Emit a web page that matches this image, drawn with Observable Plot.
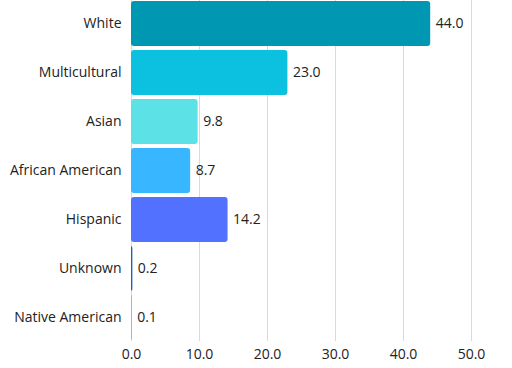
<!DOCTYPE html>
<html>
<head>
<meta charset="utf-8">
<script src="https://cdn.jsdelivr.net/npm/d3@7"></script>
<script src="https://cdn.jsdelivr.net/npm/@observablehq/plot@0.6"></script>
<style>
  html, body { margin: 0; padding: 0; background: #fff; }
  #chart { width: 512px; height: 368px; }
</style>
</head>
<body>
<div id="chart"></div>
<script>
const categories = ["White", "Multicultural", "Asian", "African American", "Hispanic", "Unknown", "Native American"];
const values = [44.0, 23.0, 9.8, 8.7, 14.2, 0.2, 0.1];
const colors = ["#0097b2", "#0cc0df", "#5ce1e6", "#38b6ff", "#5271ff", "#1c5bbf", "#8ab85a"];
const xTicks = [0, 10, 20, 30, 40, 50];

const data = categories.map((c, i) => ({category: c, value: values[i], color: colors[i]}));

const chart = Plot.plot({
  width: 512,
  height: 368,
  marginLeft: 131,
  marginRight: 41,
  marginTop: 0,
  marginBottom: 27,
  style: {fontFamily: "'Open Sans', sans-serif", fontSize: "14px", color: "#222", background: "#fff"},
  x: {domain: [0, 50], ticks: xTicks, tickFormat: d => d.toFixed(1), tickSize: 0, tickPadding: 8, label: null},
  y: {domain: categories, paddingInner: 0.09, paddingOuter: 0.02, tickSize: 0, tickPadding: 10, label: null},
  color: {type: "identity"},
  marks: [
    Plot.ruleX(xTicks, {stroke: "#d9d9d9", strokeWidth: 1}),
    Plot.barX(data, {x: "value", y: "category", fill: "color", rx: 3}),
    Plot.text(data, {x: "value", y: "category", text: d => d.value.toFixed(1), textAnchor: "start", dx: 5, fill: "#222", fontSize: 14})
  ]
});
document.getElementById("chart").appendChild(chart);
</script>
</body>
</html>
